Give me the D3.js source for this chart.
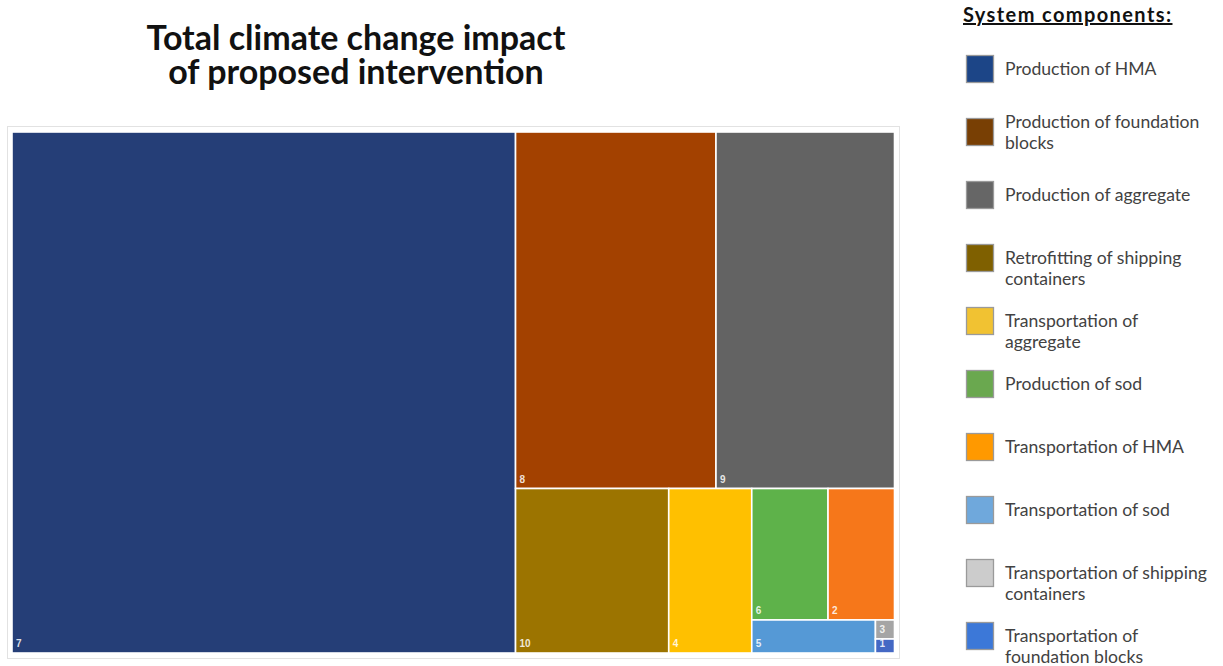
<!DOCTYPE html>
<html>
<head>
<meta charset="utf-8">
<script src="https://cdn.jsdelivr.net/npm/d3@7"></script>
<style>
  html, body { margin: 0; padding: 0; background: #ffffff; }
  svg { display: block; }
</style>
</head>
<body>
<svg id="chart" width="1223" height="666"></svg>
<script>
// Component ids shown inside the treemap cells
const cellIds = [7, 8, 9, 10, 4, 6, 2, 5, 3, 1];
// Share of the total climate change impact (%), per cell id above
const impactShare = [57.05, 15.54, 13.84, 5.48, 2.97, 2.18, 1.90, 0.889, 0.079, 0.058];
// Cell fills, per cell id above
const cellColors = ["#253E77", "#A34100", "#636363", "#9C7400", "#FFC000",
                    "#5EB24A", "#F6771A", "#5599D6", "#A5A5A5", "#4468C4"];

// Legend entries (each entry split into its printed lines)
const componentLines = [
  ["Production of HMA"],
  ["Production of foundation", "blocks"],
  ["Production of aggregate"],
  ["Retrofitting of shipping", "containers"],
  ["Transportation of", "aggregate"],
  ["Production of sod"],
  ["Transportation of HMA"],
  ["Transportation of sod"],
  ["Transportation of shipping", "containers"],
  ["Transportation of", "foundation blocks"]
];
const legendColors = ["#1C4587", "#783F04", "#666666", "#7F6000", "#F1C232",
                      "#6AA84F", "#FF9900", "#6FA8DC", "#CCCCCC", "#3C78D8"];

const titleLines = ["Total climate change impact", "of proposed intervention"];
const legendTitle = "System components:";

const svg = d3.select("#chart");

// ---- Title (one text block, two lines) ----
svg.append("text")
  .attr("text-anchor", "middle")
  .attr("font-family", "Lato, 'Open Sans', sans-serif")
  .attr("font-weight", 700)
  .attr("font-size", 34)
  .attr("fill", "#111")
  .selectAll("tspan")
  .data(titleLines)
  .join("tspan")
  .attr("x", 356)
  .attr("y", (d, i) => 50 + i * 34)
  .text(d => d);

// ---- Treemap frame ----
svg.append("rect")
  .attr("x", 7.5).attr("y", 126.5)
  .attr("width", 892).attr("height", 532)
  .attr("fill", "#fff")
  .attr("stroke", "#e2e2e2")
  .attr("stroke-width", 1);

// ---- Treemap ----
const mapX = 12, mapY = 132, mapW = 882.5, mapH = 521;

const root = d3.hierarchy({
    children: cellIds.map((id, i) => ({ id, value: impactShare[i], color: cellColors[i] }))
  })
  .sum(d => d.value || 0)
  .sort((a, b) => b.value - a.value);

d3.treemap()
  .tile(d3.treemapSquarify.ratio(1))
  .size([mapW, mapH])
  .round(false)(root);

const cells = svg.append("g")
  .attr("transform", `translate(${mapX},${mapY})`)
  .selectAll("g")
  .data(root.leaves())
  .join("g");

cells.append("rect")
  .attr("x", d => d.x0)
  .attr("y", d => d.y0)
  .attr("width", d => d.x1 - d.x0)
  .attr("height", d => d.y1 - d.y0)
  .attr("fill", d => d.data.color)
  .attr("stroke", "#ffffff")
  .attr("stroke-width", 1.6);

cells.append("text")
  .attr("x", d => d.x0 + 4)
  .attr("y", d => d.y1 - 6)
  .attr("font-family", "'Liberation Sans', Arial, sans-serif")
  .attr("font-weight", 700)
  .attr("font-size", 10)
  .attr("fill", "#ffffff")
  .attr("fill-opacity", 0.85)
  .text(d => d.data.id);

// ---- Legend ----
const legend = svg.append("g");

legend.append("text")
  .attr("x", 963)
  .attr("y", 22)
  .attr("font-family", "Lato, 'Open Sans', sans-serif")
  .attr("font-weight", 700)
  .attr("font-size", 20)
  .attr("letter-spacing", 1.4)
  .attr("text-decoration", "underline")
  .attr("fill", "#111")
  .text(legendTitle);

const legendY = d3.scalePoint()
  .domain(d3.range(componentLines.length))
  .range([69, 636]);

const items = legend.selectAll("g.item")
  .data(componentLines)
  .join("g")
  .attr("class", "item")
  .attr("transform", (d, i) => `translate(0,${legendY(i)})`);

items.append("rect")
  .attr("x", 966.5)
  .attr("y", -13.5)
  .attr("width", 27)
  .attr("height", 27)
  .attr("fill", (d, i) => legendColors[i])
  .attr("stroke", "#9a9a9a")
  .attr("stroke-width", 1.3);

items.each(function (lines, i) {
  // the two-line "foundation blocks" label is centred on its swatch
  const shift = i === 1 ? -10.5 : 0;
  d3.select(this).append("text")
    .attr("font-family", "Lato, 'Open Sans', sans-serif")
    .attr("font-size", 17.6)
    .attr("fill", "#424242")
    .selectAll("tspan")
    .data(lines)
    .join("tspan")
    .attr("x", 1005)
    .attr("y", (d, j) => shift + j * 21)
    .attr("dy", "0.35em")
    .text(d => d);
});
</script>
</body>
</html>
